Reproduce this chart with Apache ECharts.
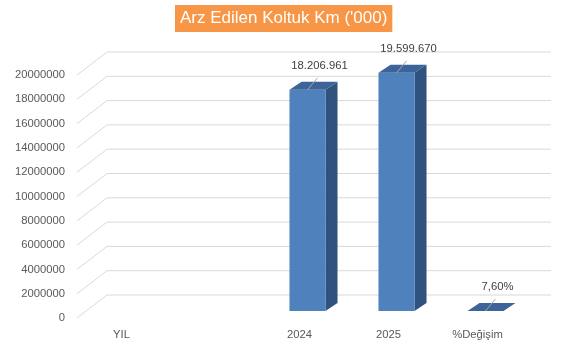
<!DOCTYPE html>
<html>
<head>
<meta charset="utf-8">
<script src="https://cdn.jsdelivr.net/npm/echarts@6/dist/echarts.min.js"></script>
<style>html,body{margin:0;padding:0;background:#fff}#c{width:578px;height:351px}</style>
</head>
<body>
<div id="c"></div>
<script>
const categories = ['YIL', '', '2024', '2025', '%Değişim'];
const seatKm = [null, null, 18206961, 19599670, 7.60];
const yTicks = [0, 2000000, 4000000, 6000000, 8000000, 10000000, 12000000, 14000000, 16000000, 18000000, 20000000];

const FONT = 'Liberation Sans';
const chart = echarts.init(document.getElementById('c'), null, {renderer: 'canvas'});

function fmtLabel(cat, v) {
  if (cat === '%Değişim') return v.toFixed(2).replace('.', ',') + '%';
  return String(Math.round(v)).replace(/\B(?=(\d{3})+(?!\d))/g, '.');
}

const barData = [];
seatKm.forEach((v, i) => { if (v !== null) barData.push([i, v]); });

chart.setOption({
  animation: false,
  title: {
    text: "Arz Edilen Koltuk Km ('000)",
    left: 175, top: 5,
    backgroundColor: '#f79646',
    padding: [5, 5, 5, 5],
    textStyle: {color: '#ffffff', fontFamily: FONT, fontSize: 17, fontWeight: 'normal', lineHeight: 17}
  },
  grid: {left: 77, right: 56, top: 75, bottom: 33},
  xAxis: {
    type: 'category', data: categories,
    axisLine: {show: false}, axisTick: {show: false},
    axisLabel: {color: '#595959', fontFamily: FONT, fontSize: 11.25, margin: 11, interval: 0}
  },
  yAxis: {
    type: 'value', min: 0, max: 20000000, interval: 2000000,
    axisLine: {show: false}, axisTick: {show: false}, splitLine: {show: false},
    axisLabel: {color: '#595959', fontFamily: FONT, fontSize: 11.25, margin: 12,
      formatter: function (v) { return String(v); }}
  },
  series: [
    {
      type: 'custom', z: 1, silent: true,
      data: yTicks.map(t => [0, t]),
      encode: {x: 0, y: 1},
      renderItem: function (params, api) {
        const cs = params.coordSys;
        const p = api.coord([0, api.value(1)]);
        const x0 = cs.x, y = p[1];
        return {
          type: 'polyline',
          shape: {points: [[x0, y], [x0 + 30, y - 23], [x0 + cs.width + 29, y - 23]]},
          style: {stroke: '#d9d9d9', lineWidth: 1, fill: null}
        };
      }
    },
    {
      type: 'custom', z: 5, silent: true,
      data: barData,
      encode: {x: 0, y: 1},
      renderItem: function (params, api) {
        const i = api.value(0), v = api.value(1);
        const top = api.coord([i, v]);
        const base = api.coord([i, 0]);
        const band = api.size([1, 0])[0];
        const w = band * 0.405;
        const cx = top[0];
        const fx0 = cx + 8 - w / 2, fx1 = cx + 8 + w / 2;
        const yt = top[1] - 7, yb = base[1] - 7;
        const dx = 12, dy = -8;
        const txt = fmtLabel(categories[i], v);
        const sx = cx + 8, sy = top[1] - 7;
        return {
          type: 'group',
          children: [
            {type: 'polygon', shape: {points: [[fx1, yt], [fx1 + dx, yt + dy], [fx1 + dx, yb + dy], [fx1, yb]]},
              style: {fill: '#30527f'}},
            {type: 'rect', shape: {x: fx0, y: yt, width: fx1 - fx0, height: Math.max(0, yb - yt)},
              style: {fill: '#4f81bd'}},
            {type: 'polygon', shape: {points: [[fx0, yt], [fx0 + dx, yt + dy], [fx1 + dx, yt + dy], [fx1, yt]]},
              style: {fill: '#3c6499'}},
            {type: 'line', shape: {x1: sx, y1: sy, x2: sx + 10, y2: sy - 12},
              style: {stroke: '#a6a6a6', lineWidth: 1}},
            {type: 'text', style: {text: txt, x: cx + 20, y: top[1] - 31, align: 'center', verticalAlign: 'middle',
              fill: '#404040', font: '11.25px "' + FONT + '"'}}
          ]
        };
      }
    }
  ]
});
</script>
</body>
</html>
